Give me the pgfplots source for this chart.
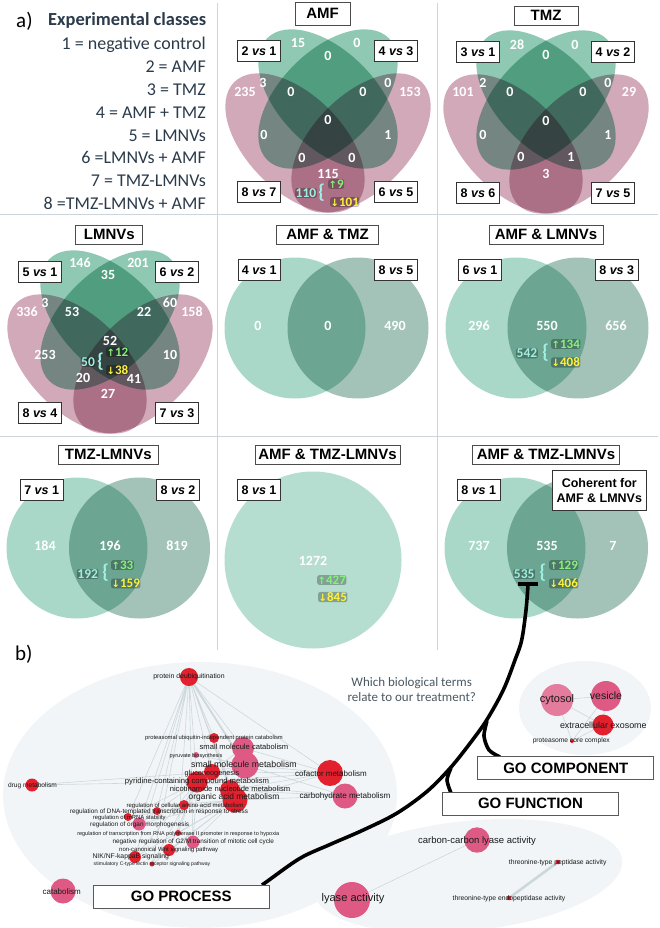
\documentclass[border=0pt]{standalone}
\usepackage{pgfplots}
\pgfplotsset{compat=1.18}
\usepackage{fontspec}
\setmainfont{Carlito}
\newfontfamily\hv{Liberation Sans}
\newfontfamily\dv{DejaVu Sans}
\definecolor{gA}{HTML}{8FC9B4}
\definecolor{pA}{HTML}{D2A9B9}
\definecolor{cL}{HTML}{A9D8C8}
\definecolor{cR}{HTML}{A3C3B9}
\definecolor{cS}{HTML}{B5DED1}
\definecolor{blob}{HTML}{F1F5F7}
\definecolor{sepc}{HTML}{CDD5DC}
\definecolor{nred}{HTML}{E2202E}
\definecolor{npink}{HTML}{DE5A84}
\definecolor{nlpink}{HTML}{E47C9E}
\definecolor{edgec}{HTML}{CDD8DB}
\definecolor{slate}{HTML}{2B3B4B}
\definecolor{qtext}{HTML}{4A5862}
\definecolor{cyantxt}{HTML}{9FF0E2}
\definecolor{greentxt}{HTML}{86F27A}
\definecolor{yellowtxt}{HTML}{FFF23A}
\newcommand{\fs}[1]{\fontsize{#1}{#1}\selectfont}
\newcommand{\up}{{\dv\fs{10}\char"2191}}
\newcommand{\dn}{{\dv\fs{10}\char"2193}}
\pgfplotsset{
  ell/.style n args={4}{only marks, mark=*, mark size=#1,
    mark options={draw opacity=0, line width=0pt, fill=#4, rotate=#3, xscale=#2}},
  vell/.style n args={4}{only marks, mark=*, mark size=#1,
    mark options={draw opacity=0, line width=0pt, fill=#4, rotate=#3, xscale=#2, blend mode=multiply}},
  netnodes/.style={scatter, only marks, mark=*,
    scatter/use mapped color={draw opacity=0, fill=#1},
    visualization depends on={\thisrow{r}\as\noderad},
    scatter/@pre marker code/.append style={/tikz/mark size=\noderad}},
}
\tikzset{
  vbox/.style={draw=black!80, fill=white, line width=0.7pt, font=\hv\bfseries\fs{12.5}, inner xsep=4pt, inner ysep=0pt, minimum height=21pt},
  tbox/.style={draw=black!70, fill=white, line width=0.7pt, font=\hv\bfseries\fs{15}, inner sep=0pt, minimum height=19pt, minimum width=#1},
  gobox/.style={draw=black!65, fill=white, line width=0.8pt, font=\hv\bfseries\fs{15}, inner sep=0pt, minimum height=23pt, minimum width=176pt},
  nl/.style={font=\hv\fontsize{#1}{#1}\selectfont, text=black!90, inner sep=0pt},
  glow/.style={fill=black, fill opacity=0.28, text opacity=1, rounded corners=2pt, inner sep=0.5pt},
  cy/.style={glow, text=cyantxt, font=\bfseries\fs{13.5}},
  br/.style={text=cyantxt, font=\bfseries\fs{20}, inner sep=0pt},
  gr/.style={glow, text=greentxt, font=\bfseries\fs{13}, anchor=west},
  ye/.style={glow, text=yellowtxt, font=\bfseries\fs{13}, anchor=west},
  cls/.style={anchor=base east, font=\fs{18}, text=slate, inner sep=0pt},
}
\begin{document}
\begin{tikzpicture}
\begin{axis}[at={(0,0)}, anchor=south west, width=660pt, height=928pt, scale only axis,
  xmin=0, xmax=660, ymin=0, ymax=928, y dir=reverse, hide axis, clip=false,
  clip marker paths=true, unbounded coords=jump]
\coordinate (c1) at (axis cs:0,0);
\coordinate (c2) at (axis cs:660,928);
% pale blobs of part b
\addplot[ell={133}{1.481}{0}{blob}] coordinates {(200,795)};
\addplot[ell={47}{1.404}{0}{blob}] coordinates {(585,708)};
\addplot[ell={55}{2.818}{6}{blob}] coordinates {(468,876)};
% panel separators
\addplot[color=sepc, line width=1pt] coordinates {(217,3) (217,650) (nan,nan) (437,3) (437,650) (nan,nan) (0,214) (658,214) (nan,nan) (0,436) (658,436)};
% four-set Venn diagrams
\addplot[vell={48}{1.792}{-45}{gA}] coordinates {(328,99) (546,100) (110,320)};
\addplot[vell={48}{1.792}{45}{gA}] coordinates {(328,99) (546,100) (110,320)};
\addplot[vell={48}{1.792}{-45}{pA}] coordinates {(295,143) (513,144) (77,364)};
\addplot[vell={48}{1.792}{45}{pA}] coordinates {(361,143) (579,144) (143,364)};
% two-set and one-set Venn diagrams
\addplot[vell={70.5}{1}{0}{cL}] coordinates {(295,328) (516,328) (77,548) (515,548)};
\addplot[vell={70.5}{1}{0}{cR}] coordinates {(358,328) (578,328) (139.5,548) (577.5,548)};
\addplot[vell={88.5}{1}{0}{cS}] coordinates {(313,560)};
% white counts
\addplot[draw=none, mark=none, nodes near coords, point meta=explicit symbolic,
  nodes near coords style={anchor=center, text=white, font=\bfseries\fs{14}, inner sep=0pt}]
  table[meta=l] {
x y l
298 43 15
328 56 0
357 43 0
245 92 235
263 83 3
291 92 0
363 92 0
388 83 0
410 92 153
328 120 0
264 135 0
388 135 1
302 158 0
352 158 0
328 174 115
517 45 28
546 55 0
575 45 0
463 92 101
483 83 2
510 92 0
583 92 0
608 83 0
629 92 29
546 121 0
483 135 0
608 135 1
521 157 0
571 157 1
546 174 3
80 263 146
108 275 35
138 263 201
27 312 336
45 303 3
72 312 53
144 312 22
170 303 60
192 312 158
110 341 52
45 355 253
170 355 10
83 378 20
134 379 41
108 394 27
258 326 0
328 326 0
395 326 490
479 326 296
547 326 550
616 326 656
45 546 184
110 546 196
177 546 819
313 561 1272
479 546 737
547 546 535
613 546 7
};
% network edges
\addplot[color=edgec, line width=0.6pt] coordinates {
(189,677) (214,738) (nan,nan) (189,677) (243,748) (nan,nan) (189,677) (212,772) (nan,nan)
(189,677) (197,782) (nan,nan) (189,677) (230,790) (nan,nan) (189,677) (235,800) (nan,nan)
(189,677) (330,773) (nan,nan) (189,677) (157,811) (nan,nan) (189,677) (139,824) (nan,nan)
(189,677) (193,842) (nan,nan) (189,677) (135,857) (nan,nan) (189,677) (152,864) (nan,nan)
(189,677) (178,833) (nan,nan) (189,677) (128,817) (nan,nan)
(32,785) (197,782) (nan,nan) (32,785) (212,772) (nan,nan)
(330,773) (245,765) (nan,nan) (330,773) (235,800) (nan,nan) (330,773) (197,782) (nan,nan)
(330,773) (230,790) (nan,nan) (330,773) (243,748) (nan,nan) (330,773) (212,772) (nan,nan)
(345,796) (245,765) (nan,nan) (345,796) (235,800) (nan,nan) (345,796) (230,790) (nan,nan) (345,796) (197,782) (nan,nan)
(245,765) (212,772) (nan,nan) (245,765) (197,782) (nan,nan) (245,765) (235,800) (nan,nan)
(243,748) (235,800) (nan,nan) (243,748) (197,782) (nan,nan) (196,755) (245,765) (nan,nan) (214,738) (235,800) (nan,nan)
(139,824) (197,782) (nan,nan) (139,824) (235,800) (nan,nan) (128,817) (235,800) (nan,nan) (128,817) (197,782) (nan,nan)
(157,811) (235,800) (nan,nan) (135,857) (197,782) (nan,nan) (135,857) (235,800) (nan,nan)
(169,850) (235,800) (nan,nan) (169,850) (197,782) (nan,nan) (193,842) (235,800) (nan,nan) (193,842) (197,782) (nan,nan)
(152,864) (197,782) (nan,nan) (152,864) (235,800) (nan,nan) (178,833) (235,800) (nan,nan) (178,833) (197,782) (nan,nan)
(184,804) (197,782) (nan,nan) (184,804) (235,800) (nan,nan)
(557,700) (606,696) (nan,nan) (557,700) (603,725) (nan,nan) (606,696) (603,725) (nan,nan)
(606,696) (572,741) (nan,nan) (557,700) (572,741) (nan,nan) (603,725) (572,741) (nan,nan)
(352,900) (477,840)
};
\addplot[color=edgec, line width=1.8pt] coordinates {(189,677) (245,765)};
\addplot[color=edgec, line width=2.6pt] coordinates {(558,862) (509,898)};
% network nodes
\addplot[netnodes=nred] table {
x y r
189 677 9
214 738 5
212 772 8
197 782 10.5
230 790 10
235 800 12.5
330 773 13
32 785 6.5
184 805 5
157 811 4
128 817 4
178 833 3
169 850 6
135 857 6
152 864 2.5
603 725 10.5
572 741 2
558 862 2.3
509 898 2.3
};
\addplot[netnodes=npink] table {
x y r
243 748 11
196 755 3
245 765 13.5
345 796 12.5
139 824 6.5
193 842 6.5
63 891 12.5
606 696 15
477 840 12.7
352 900 18
};
\addplot[netnodes=nlpink] table {
x y r
557 700 16
};
% black connector
\addplot[black, line width=4pt] coordinates {(518,584) (538,584)};
\addplot[black, line width=3.6pt, smooth, tension=0.55] coordinates {
(528,585) (526,610) (521.7,640) (515,660) (503.3,690) (486.7,720) (470,743.3) (450,768.3)
(426.7,791.7) (396.7,813.3) (363.3,830) (330,844.5) (300,858.3) (266.7,881.7) (262,885)};
\addplot[black, line width=3.6pt, smooth] coordinates {(487,721) (484,736) (489,750) (500,757)};
\addplot[black, line width=3.6pt, smooth] coordinates {(451,768) (447,780) (451,793)};
% ---------- text ----------
\node[anchor=base west, font=\fs{21}, inner sep=0pt] at (axis cs:16,27.3) {a)};
\node[anchor=base west, font=\fs{21}, inner sep=0pt] at (axis cs:15,660.7) {b)};
\node[anchor=base west, font=\bfseries\fs{18.4}, text=slate, inner sep=0pt] at (axis cs:48,26) {Experimental classes};
\node[cls] at (axis cs:206,49.3) {1 = negative control};
\node[cls] at (axis cs:206,72.7) {2 = AMF};
\node[cls] at (axis cs:206,95.7) {3 = TMZ};
\node[cls] at (axis cs:206,119) {4 = AMF + TMZ};
\node[cls] at (axis cs:206,141.7) {5 = LMNVs};
\node[cls] at (axis cs:206,164) {6 =LMNVs + AMF};
\node[cls] at (axis cs:206,186.7) {7 = TMZ-LMNVs};
\node[cls] at (axis cs:206,209.5) {8 =TMZ-LMNVs + AMF};
% titles
\node[tbox=55pt, minimum height=23pt] at (axis cs:322.5,13.5) {AMF};
\node[tbox=64pt] at (axis cs:546,15.5) {TMZ};
\node[tbox=67pt] at (axis cs:109.3,234.5) {LMNVs};
\node[tbox=102pt] at (axis cs:327.5,234.5) {AMF \& TMZ};
\node[tbox=114pt] at (axis cs:546,234.5) {AMF \& LMNVs};
\node[tbox=100pt] at (axis cs:108.3,454.5) {TMZ-LMNVs};
\node[tbox=145pt] at (axis cs:327.5,454.5) {AMF \& TMZ-LMNVs};
\node[tbox=147pt] at (axis cs:546,454.5) {AMF \& TMZ-LMNVs};
% comparison boxes
\node[vbox] at (axis cs:259,51) {2 \textit{vs} 1};
\node[vbox] at (axis cs:396,51) {4 \textit{vs} 3};
\node[vbox] at (axis cs:259,192) {8 \textit{vs} 7};
\node[vbox] at (axis cs:396,192) {6 \textit{vs} 5};
\node[vbox] at (axis cs:478,52) {3 \textit{vs} 1};
\node[vbox] at (axis cs:613,52) {4 \textit{vs} 2};
\node[vbox] at (axis cs:478,193) {8 \textit{vs} 6};
\node[vbox] at (axis cs:613,193) {7 \textit{vs} 5};
\node[vbox] at (axis cs:40,272) {5 \textit{vs} 1};
\node[vbox] at (axis cs:177,272) {6 \textit{vs} 2};
\node[vbox] at (axis cs:40,413) {8 \textit{vs} 4};
\node[vbox] at (axis cs:177,413) {7 \textit{vs} 3};
\node[vbox] at (axis cs:259.3,270) {4 \textit{vs} 1};
\node[vbox] at (axis cs:396,270) {8 \textit{vs} 5};
\node[vbox] at (axis cs:480,270) {6 \textit{vs} 1};
\node[vbox] at (axis cs:616.7,270) {8 \textit{vs} 3};
\node[vbox] at (axis cs:41.7,490) {7 \textit{vs} 1};
\node[vbox] at (axis cs:178,490) {8 \textit{vs} 2};
\node[vbox] at (axis cs:259,490) {8 \textit{vs} 1};
\node[vbox] at (axis cs:478.7,490) {8 \textit{vs} 1};
\node[vbox, align=center, minimum width=93pt, minimum height=40pt, font=\hv\bfseries\fontsize{12.5}{15}\selectfont] at (axis cs:599.3,490.7) {Coherent for\\AMF \& LMNVs};
% up / down counts
\node[cy] at (axis cs:306,193) {110};
\node[br] at (axis cs:321.5,193) {\{};
\node[gr] at (axis cs:328,184) {\up9};
\node[ye] at (axis cs:330,202) {\dn101};
\node[cy] at (axis cs:88,362) {50};
\node[br] at (axis cs:100.5,362) {\{};
\node[gr] at (axis cs:106,352) {\up12};
\node[ye] at (axis cs:106,370) {\dn38};
\node[cy] at (axis cs:527,353.3) {542};
\node[br] at (axis cs:545.5,353) {\{};
\node[gr] at (axis cs:551,344) {\up134};
\node[ye] at (axis cs:551,362.5) {\dn408};
\node[cy] at (axis cs:87.7,574) {192};
\node[br] at (axis cs:105.5,573) {\{};
\node[gr] at (axis cs:111,565) {\up33};
\node[ye] at (axis cs:111,583.5) {\dn159};
\node[gr] at (axis cs:317,580) {\up427};
\node[ye] at (axis cs:318,597) {\dn845};
\node[cy] at (axis cs:524.2,574) {535};
\node[br] at (axis cs:542.8,573) {\{};
\node[gr] at (axis cs:549,565) {\up129};
\node[ye] at (axis cs:549,583.5) {\dn406};
% network labels
\node[nl=6.9] at (axis cs:189,677) {protein deubiquitination};
\node[nl=5.8] at (axis cs:214,738) {proteasomal ubiquitin-independent protein catabolism};
\node[nl=7.6] at (axis cs:244,747) {small molecule catabolism};
\node[nl=5.5] at (axis cs:196,756) {pyruvate biosynthesis};
\node[nl=8.8] at (axis cs:244,764) {small molecule metabolism};
\node[nl=7.3] at (axis cs:212,774) {gluconeogenesis};
\node[nl=7.7] at (axis cs:197,781.7) {pyridine-containing compound metabolism};
\node[nl=7.6] at (axis cs:230,788.3) {nicotinamide nucleotide metabolism};
\node[nl=8.4] at (axis cs:234,797.8) {organic acid metabolism};
\node[nl=8] at (axis cs:331,773.3) {cofactor metabolism};
\node[nl=8.1] at (axis cs:345,796) {carbohydrate metabolism};
\node[nl=6.6] at (axis cs:32.5,785.7) {drug metabolism};
\node[nl=6] at (axis cs:185,805.6) {regulation of cellular amino acid metabolism};
\node[nl=6.4] at (axis cs:159,811.6) {regulation of DNA-templated transcription in response to stress};
\node[nl=5.9] at (axis cs:129.3,818) {regulation of mRNA stability};
\node[nl=6.4] at (axis cs:139.7,824.6) {regulation of organ morphogenesis};
\node[nl=5.5] at (axis cs:178.3,834.3) {regulation of transcription from RNA polymerase II promoter in response to hypoxia};
\node[nl=6.4] at (axis cs:193.3,842.3) {negative regulation of G2/M transition of mitotic cell cycle};
\node[nl=6] at (axis cs:168.7,850.3) {non-canonical Wnt signaling pathway};
\node[nl=6.8] at (axis cs:130.7,856.9) {NIK/NF-kappaB signaling};
\node[nl=5.1] at (axis cs:152,864.3) {stimulatory C-type lectin receptor signaling pathway};
\node[nl=8] at (axis cs:61.7,891.7) {catabolism};
\node[nl=11] at (axis cs:557,700) {cytosol};
\node[nl=10.5] at (axis cs:606,696) {vesicle};
\node[nl=8.9] at (axis cs:603.3,725) {extracellular exosome};
\node[nl=6.7] at (axis cs:571.3,741) {proteasome core complex};
\node[nl=9.5] at (axis cs:477,840.7) {carbon-carbon lyase activity};
\node[nl=6.8] at (axis cs:557.7,862.7) {threonine-type peptidase activity};
\node[nl=6.8] at (axis cs:509,898.3) {threonine-type endopeptidase activity};
\node[nl=11.1] at (axis cs:353,899) {lyase activity};
\node[font=\fontsize{13}{15.6}\selectfont, text=qtext, align=center, inner sep=0pt] at (axis cs:411.7,689.5) {Which biological terms\\relate to our treatment?};
\node[gobox] at (axis cs:565.8,768.3) {GO COMPONENT};
\node[gobox] at (axis cs:530.5,803.8) {GO FUNCTION};
\node[gobox] at (axis cs:181.3,896.7) {GO PROCESS};
\end{axis}
\pgfresetboundingbox
\useasboundingbox (c1) rectangle (c2);
\end{tikzpicture}
\end{document}
